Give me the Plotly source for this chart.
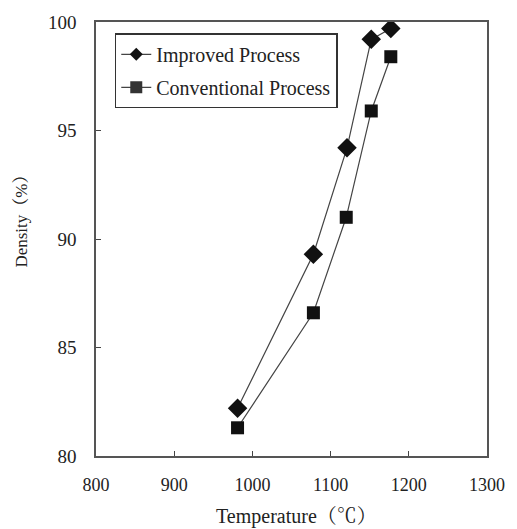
import plotly.graph_objects as go

temps_improved = [981, 1078, 1121, 1152, 1177]
density_improved = [82.2, 89.3, 94.2, 99.2, 99.7]
temps_conv = [981, 1078, 1120, 1152, 1177]
density_conv = [81.3, 86.6, 91.0, 95.9, 98.4]
x_ticks = [800, 900, 1000, 1100, 1200, 1300]
y_ticks = [80, 85, 90, 95, 100]
series_names = ["Improved Process", "Conventional Process"]

FONT = "Liberation Serif, Times New Roman, Noto Serif CJK SC, Noto Sans CJK SC, serif"
LINE = dict(color="#444444", width=1.2)

fig = go.Figure()
fig.add_trace(go.Scatter(
    x=temps_improved, y=density_improved, mode="lines+markers",
    name=series_names[0], showlegend=False,
    line=LINE, marker=dict(symbol="diamond", size=15, color="#111111"),
))
fig.add_trace(go.Scatter(
    x=temps_conv, y=density_conv, mode="lines+markers",
    name=series_names[1], showlegend=False,
    line=LINE, marker=dict(symbol="square", size=13, color="#111111"),
))
# legend entries (smaller symbols, as in the reference)
fig.add_trace(go.Scatter(
    x=[None], y=[None], mode="lines+markers", name=series_names[0],
    legendgroup="a", line=LINE, marker=dict(symbol="diamond", size=10, color="#111111"),
))
fig.add_trace(go.Scatter(
    x=[None], y=[None], mode="lines+markers", name=series_names[1],
    legendgroup="b", line=LINE, marker=dict(symbol="square", size=12, color="#333333"),
))

fig.update_layout(
    width=517, height=529,
    margin=dict(l=96, r=23, t=16, b=73),
    paper_bgcolor="white", plot_bgcolor="white",
    font=dict(family=FONT, size=18, color="#222222"),
    showlegend=True,
    legend=dict(
        x=0.048, y=0.974, xanchor="left", yanchor="top",
        bordercolor="#333333", borderwidth=1.5, bgcolor="white",
        font=dict(family=FONT, size=20, color="#222222"),
        traceorder="grouped", tracegroupgap=4, itemwidth=30,
    ),
    xaxis=dict(
        range=[800, 1300], tickvals=x_ticks, ticktext=[str(v) for v in x_ticks],
        ticks="inside", ticklen=5, tickcolor="#444444",
        showline=True, linecolor="#555555", linewidth=1.5, mirror=True,
        showgrid=False, zeroline=False,
        ticklabelstandoff=12,
        tickfont=dict(family=FONT, size=18),
    ),
    yaxis=dict(
        range=[80, 100], tickvals=y_ticks, ticktext=[str(v) for v in y_ticks],
        ticks="inside", ticklen=5, tickcolor="#444444",
        showline=True, linecolor="#555555", linewidth=1.5, mirror=True,
        showgrid=False, zeroline=False,
        ticklabelstandoff=14,
        tickfont=dict(family=FONT, size=19),
    ),
    annotations=[
        dict(
            text="Density（%）", xref="paper", yref="paper",
            x=-0.191, y=0.55, xanchor="center", yanchor="middle",
            textangle=-90, showarrow=False, font=dict(family=FONT, size=17),
        ),
        dict(
            text="Temperature（℃）", xref="paper", yref="paper",
            x=0.512, y=-0.139, xanchor="center", yanchor="middle",
            showarrow=False, font=dict(family=FONT, size=20),
        ),
    ],
)

fig.write_html("out.html")
